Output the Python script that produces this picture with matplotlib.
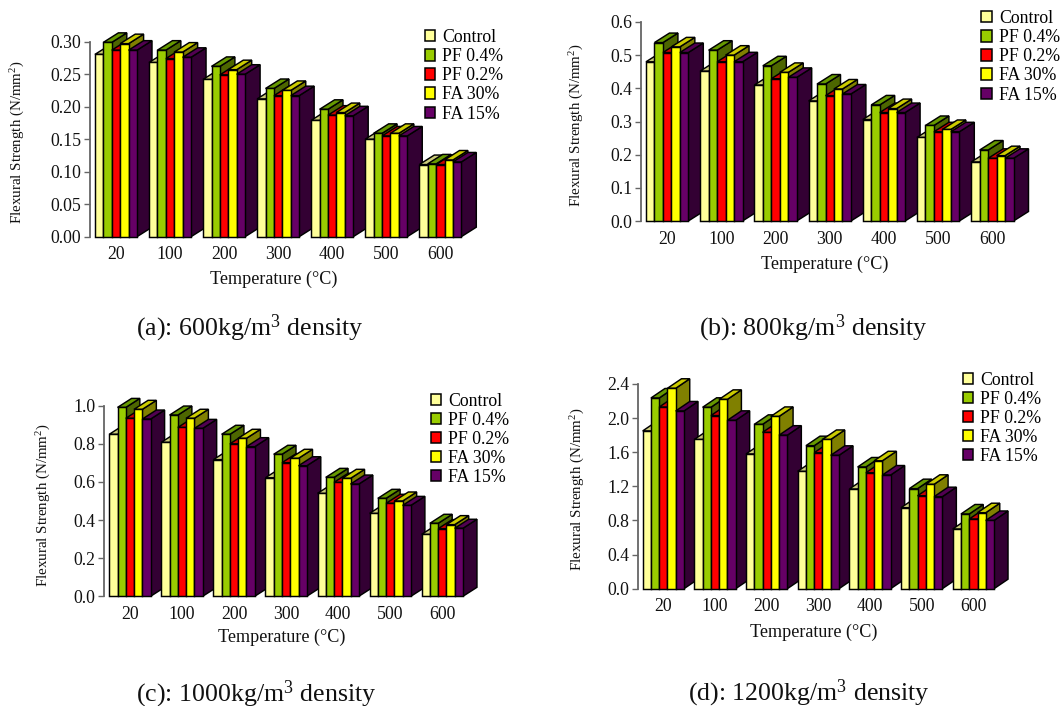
import matplotlib
matplotlib.use("Agg")
import matplotlib.pyplot as plt
from matplotlib.patches import Polygon, Patch

plt.rcParams['font.family'] = ['Liberation Serif', 'DejaVu Serif']
plt.rcParams['mathtext.default'] = 'regular'

W, H = 1063, 706
temps = ['20', '100', '200', '300', '400', '500', '600']
series = ['Control', 'PF 0.4%', 'PF 0.2%', 'FA 30%', 'FA 15%']
front = ['#FFFF99', '#99CC00', '#FF0000', '#FFFF00', '#660066']
top = ['#CCCC7A', '#669900', '#CC0000', '#CCCC00', '#520052']
side = ['#808050', '#4D6600', '#800000', '#808000', '#330033']

a_control = [.2805, .268, .242, .212, .179, .150, .111]
a_pf04 = [.299, .287, .262, .228, .196, .159, .112]
a_pf02 = [.287, .274, .249, .217, .187, .155, .111]
a_fa30 = [.297, .284, .257, .225, .191, .159, .118]
a_fa15 = [.287, .276, .250, .217, .186, .155, .115]

b_control = [.48, .452, .41, .362, .306, .252, .178]
b_pf04 = [.538, .515, .468, .413, .35, .288, .214]
b_pf02 = [.508, .48, .429, .378, .327, .269, .189]
b_fa30 = [.525, .50, .448, .398, .339, .276, .197]
b_fa15 = [.508, .48, .433, .383, .327, .269, .189]

c_control = [.85, .808, .717, .622, .54, .435, .325]
c_pf04 = [.991, .951, .85, .745, .624, .514, .383]
c_pf02 = [.934, .886, .80, .701, .598, .488, .355]
c_fa30 = [.981, .934, .829, .724, .619, .50, .376]
c_fa15 = [.93, .881, .785, .685, .589, .477, .357]

d_control = [1.85, 1.75, 1.58, 1.376, 1.169, .95, .70]
d_pf04 = [2.236, 2.127, 1.927, 1.677, 1.427, 1.173, .876]
d_pf02 = [2.13, 2.03, 1.833, 1.595, 1.36, 1.09, .817]
d_fa30 = [2.35, 2.22, 2.02, 1.75, 1.50, 1.224, .891]
d_fa15 = [2.084, 1.974, 1.80, 1.564, 1.333, 1.079, .80]

panels = [
    dict(data=[a_control, a_pf04, a_pf02, a_fa30, a_fa15],
         yticks=[0, .05, .10, .15, .20, .25, .30], fmt='%.2f',
         axis_x=89.5, y0=236.7, ytop=41.7, start=95, step=54.05, gw=42, dx=15, dy=9.5,
         leg=(424.7, 29), xl=(273.5, 279), yl=(18, 142),
         cap=('(a): 600kg/m$^{3}$ density', 249.5, 328)),
    dict(data=[b_control, b_pf04, b_pf02, b_fa30, b_fa15],
         yticks=[0, .1, .2, .3, .4, .5, .6], fmt='%.1f',
         axis_x=640.5, y0=221, ytop=22, start=646, step=54.2, gw=42.3, dx=15, dy=9.5,
         leg=(981, 10), xl=(825, 264), yl=(577, 125),
         cap=('(b): 800kg/m$^{3}$ density', 813, 328)),
    dict(data=[c_control, c_pf04, c_pf02, c_fa30, c_fa15],
         yticks=[0, .2, .4, .6, .8, 1.0], fmt='%.1f',
         axis_x=104, y0=596.3, ytop=405.7, start=109.3, step=52.06, gw=41.3, dx=14, dy=9,
         leg=(430.7, 392.5), xl=(281.5, 637), yl=(44, 505),
         cap=('(c): 1000kg/m$^{3}$ density', 256, 694)),
    dict(data=[d_control, d_pf04, d_pf02, d_fa30, d_fa15],
         yticks=[0, .4, .8, 1.2, 1.6, 2.0, 2.4], fmt='%.1f',
         axis_x=637.7, y0=588.7, ytop=384, start=642.7, step=51.67, gw=41.3, dx=14, dy=9.5,
         leg=(962.7, 371.5), xl=(814, 632), yl=(578, 489),
         cap=('(d): 1200kg/m$^{3}$ density', 809, 693)),
]

fig = plt.figure(figsize=(W / 100, H / 100), dpi=100, facecolor='white')


def fx(px):
    return px / W


def fy(py):
    return 1 - py / H


for p in panels:
    right = p['start'] + 7 * p['step'] + 10
    ax = fig.add_axes([fx(p['axis_x']), fy(p['y0']),
                       (right - p['axis_x']) / W, (p['y0'] - p['ytop']) / H])
    ax.patch.set_alpha(0)
    c0 = p['start'] + p['gw'] / 2
    ax.set_xlim((p['axis_x'] - c0) / p['step'], (right - c0) / p['step'])
    ymax = p['yticks'][-1]
    ax.set_ylim(0, ymax)
    unit_y = (p['y0'] - p['ytop']) / ymax
    w = p['gw'] / 5 / p['step']
    ddx = p['dx'] / p['step']
    ddy = p['dy'] / unit_y
    z = 3
    for i in range(len(temps)):
        for s in range(len(series)):
            v = p['data'][s][i]
            x0 = i - 2.5 * w + s * w
            x1 = x0 + w
            ax.add_patch(Polygon([(x1, 0), (x1 + ddx, ddy), (x1 + ddx, v + ddy), (x1, v)],
                                 fc=side[s], ec='black', lw=1.05, zorder=z, clip_on=False))
            ax.add_patch(Polygon([(x0, v), (x0 + ddx, v + ddy), (x1 + ddx, v + ddy), (x1, v)],
                                 fc=top[s], ec='black', lw=1.05, zorder=z, clip_on=False))
            ax.bar(x0, v, width=w, align='edge', color=front[s], edgecolor='black',
                   linewidth=1.05, zorder=z + 0.5, clip_on=False)
            z += 1
    for sp in ('top', 'right', 'bottom'):
        ax.spines[sp].set_visible(False)
    ax.spines['left'].set_color('#666666')
    ax.spines['left'].set_linewidth(1.3)
    ax.set_yticks(p['yticks'])
    ax.set_yticklabels([p['fmt'] % t for t in p['yticks']], fontsize=12.8, color='#111111')
    ax.tick_params(axis='y', length=4, width=1.0, color='#666666', pad=2)
    ax.set_xticks(range(len(temps)))
    ax.set_xticklabels(temps, fontsize=12.8, color='#111111')
    ax.tick_params(axis='x', length=0, pad=7)

    handles = [Patch(fc=front[s], ec='black', lw=1.1, label=series[s]) for s in range(len(series))]
    ax.legend(handles=handles, loc='upper left',
              bbox_to_anchor=(fx(p['leg'][0]), fy(p['leg'][1])), bbox_transform=fig.transFigure,
              frameon=False, fontsize=12.8, borderpad=0, borderaxespad=0,
              handlelength=0.6, handleheight=0.6, handletextpad=0.4, labelspacing=0.12)

    fig.text(fx(p['xl'][0]), fy(p['xl'][1]), 'Temperature (°C)', fontsize=13.1,
             ha='center', va='center', color='#111111')
    fig.text(fx(p['yl'][0]), fy(p['yl'][1]), 'Flexural Strength (N/mm$^{2}$)', fontsize=10.8,
             rotation=90, ha='center', va='center', color='#111111')
    fig.text(fx(p['cap'][1]), fy(p['cap'][2]), p['cap'][0], fontsize=18.6,
             ha='center', va='center', color='#111111')

fig.savefig('out.png', dpi=100, facecolor='white')
